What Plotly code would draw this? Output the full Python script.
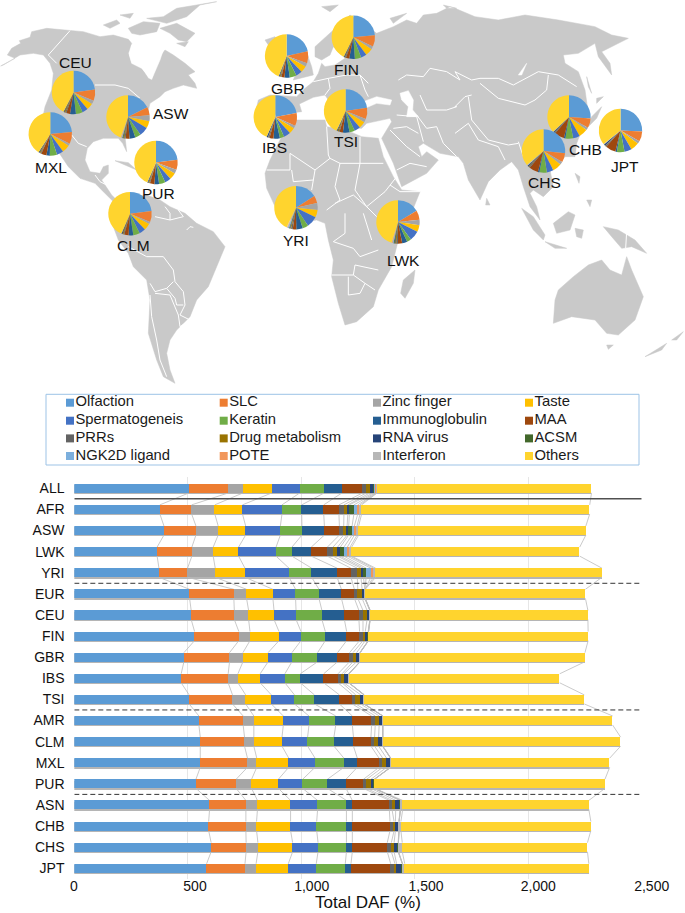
import numpy as np
import plotly.graph_objects as go

W, H = 685, 913

# ---------- data ----------
populations = ["ALL", "AFR", "ASW", "LWK", "YRI", "EUR", "CEU", "FIN", "GBR", "IBS",
               "TSI", "AMR", "CLM", "MXL", "PUR", "ASN", "CHB", "CHS", "JPT"]
olfaction = [506, 377, 395, 365, 373, 508, 515, 530, 483, 471, 506, 549, 555, 555, 536, 596, 592, 603, 583]
slc = [174, 140, 141, 153, 126, 195, 190, 195, 201, 207, 191, 195, 195, 208, 177, 160, 164, 154, 169]
zinc_finger = [64, 102, 98, 94, 122, 56, 63, 49, 59, 43, 58, 47, 41, 41, 68, 51, 47, 52, 49]
taste = [127, 122, 121, 112, 131, 116, 112, 128, 111, 98, 113, 130, 124, 141, 118, 146, 150, 153, 142]
spermatogeneis = [123, 174, 153, 165, 194, 100, 97, 97, 105, 109, 102, 113, 113, 116, 107, 119, 115, 112, 123]
keratin = [108, 87, 95, 70, 100, 103, 114, 107, 113, 68, 88, 118, 116, 127, 109, 127, 131, 125, 128]
immunoglobulin = [78, 97, 99, 85, 112, 99, 99, 94, 88, 103, 110, 73, 86, 59, 82, 26, 26, 26, 25]
maa = [91, 67, 66, 71, 61, 57, 64, 57, 53, 63, 57, 85, 77, 96, 77, 163, 166, 154, 175]
prrs = [17, 22, 19, 25, 28, 15, 18, 15, 15, 18, 15, 16, 16, 16, 14, 12, 18, 18, 19]
drug_metabolism = [15, 17, 15, 20, 16, 19, 18, 10, 16, 8, 22, 17, 18, 17, 19, 16, 6, 12, 7]
rna_virus = [15, 7, 7, 12, 11, 12, 12, 13, 14, 21, 14, 15, 17, 17, 14, 20, 15, 18, 25]
acsm = [8, 20, 15, 16, 12, 1, 1, 1, 1, 1, 1, 1, 1, 1, 1, 1, 1, 1, 1]
ngk2d_ligand = [4, 17, 10, 15, 21, 0, 0, 0, 0, 0, 0, 0, 0, 0, 0, 0, 0, 0, 0]
pote = [3, 10, 12, 12, 12, 0, 0, 0, 0, 0, 0, 0, 0, 0, 0, 0, 0, 0, 0]
interferon = [2, 7, 7, 7, 9, 1, 1, 1, 1, 1, 1, 1, 1, 1, 1, 10, 8, 17, 10]
others = [944, 1005, 1001, 1005, 997, 970, 959, 967, 990, 928, 969, 1012, 1047, 964, 1015, 820, 837, 816, 811]

series_names = ["Olfaction", "SLC", "Zinc finger", "Taste", "Spermatogeneis", "Keratin",
                "Immunoglobulin", "MAA", "PRRs", "Drug metabolism", "RNA virus", "ACSM",
                "NGK2D ligand", "POTE", "Interferon", "Others"]
series_values = [olfaction, slc, zinc_finger, taste, spermatogeneis, keratin, immunoglobulin, maa,
                 prrs, drug_metabolism, rna_virus, acsm, ngk2d_ligand, pote, interferon, others]
series_colors = ["#5B9BD5", "#ED7D31", "#A5A5A5", "#FFC000", "#4472C4", "#70AD47", "#255E91", "#9E480E",
                 "#636363", "#997300", "#264478", "#43682B", "#7CAFDD", "#F1975A", "#B7B7B7", "#FFD42E"]

x_ticks = [0, 500, 1000, 1500, 2000, 2500]
x_tick_labels = ["0", "500", "1,000", "1,500", "2,000", "2,500"]

# ---------- layout helpers (page pixels) ----------
x_label_px = [74, 195, 311.7, 426, 538.3, 651.7]   # the reference's labels sit right of their gridlines
pie_places = {"CEU": (73.5, 92.5), "ASW": (128, 117), "MXL": (50.3, 134), "PUR": (156, 162.5),
              "CLM": (130, 213.7), "GBR": (286.6, 56), "FIN": (353.3, 37.3), "IBS": (275.3, 117),
              "TSI": (345.6, 111), "YRI": (296, 207.7), "LWK": (398, 222), "CHB": (569, 117),
              "CHS": (543.5, 151), "JPT": (620.5, 130.5)}
pie_labels = {"CEU": (75, 62), "ASW": (171, 113), "MXL": (50.6, 167.5), "PUR": (158, 193.5),
              "CLM": (133, 245), "GBR": (288, 88.5), "FIN": (346, 69.5), "IBS": (274, 147.5),
              "TSI": (346, 141.7), "YRI": (296, 240.7), "LWK": (403, 260), "CHB": (585.5, 149),
              "CHS": (544, 182), "JPT": (624.5, 166)}
PIE_R = 21.7

def z10(p): return [(x / 3, y / 3) for x, y in p]
def z11(p): return [(250 + x / 3, y / 3) for x, y in p]
def z12(p): return [(455 + x / 3, y / 3) for x, y in p]

# ---------- map outlines ----------
land = [
    z10([(2, 198), (45, 175), (22, 165), (35, 145), (62, 130), (58, 122), (90, 112), (95, 95), (140, 85),
         (210, 90), (250, 95), (300, 110), (340, 105), (385, 118), (395, 130), (385, 160), (395, 190),
         (425, 205), (445, 235), (455, 240), (470, 200), (480, 170), (495, 150), (520, 165), (555, 190),
         (585, 215), (565, 225), (585, 250), (590, 265), (550, 255), (520, 265), (495, 275), (480, 290),
         (450, 310), (445, 330), (448, 360), (420, 395), (375, 410), (380, 455), (368, 430), (355, 415),
         (310, 415), (280, 425), (262, 445), (255, 480), (270, 515), (300, 520), (310, 500), (325, 495),
         (325, 520), (305, 540), (335, 585), (350, 600), (345, 610), (310, 575), (285, 550), (240, 535),
         (205, 500), (175, 455), (150, 420), (130, 345), (135, 320), (155, 270), (160, 220), (150, 190),
         (130, 165), (100, 160), (60, 165), (10, 195)]),
    z10([(350, 605), (395, 590), (440, 585), (480, 600), (510, 620), (555, 640), (590, 670), (640, 695),
         (675, 740), (650, 800), (625, 860), (590, 900), (570, 950), (530, 990), (510, 1020), (500, 1060),
         (510, 1110), (525, 1150), (490, 1130), (470, 1080), (445, 1000), (450, 900), (440, 840),
         (400, 800), (385, 760), (355, 720), (340, 680)]),
    z10([(345, 482), (385, 488), (410, 510), (375, 495)]),
    z10([(310, 75), (350, 60), (360, 70), (330, 85)]),
    z10([(360, 45), (400, 40), (390, 55)]),
    z10([(385, 85), (430, 65), (480, 70), (470, 95), (420, 105), (395, 100)]),
    z10([(440, 55), (490, 50), (530, 25), (585, 15), (650, 5), (600, 15), (560, 50), (500, 70)]),
    z10([(480, 85), (530, 70), (585, 100), (560, 125), (535, 120), (510, 100)]),
    z10([(530, 130), (565, 125), (555, 140)]),
    # Eurasia
    z11([(60, 345), (155, 335), (148, 312), (190, 292), (225, 285), (235, 300), (275, 345), (300, 385),
         (335, 385), (350, 370), (420, 355), (425, 365), (395, 415), (430, 490), (455, 560), (530, 520),
         (565, 480), (530, 455), (515, 470), (505, 440), (520, 430), (570, 460), (625, 470)])
    + z12([(25, 490), (40, 540), (75, 600), (100, 545), (135, 510), (170, 485), (190, 510), (205, 560),
           (225, 620), (255, 660), (245, 620), (225, 580), (235, 570), (265, 590), (295, 560), (285, 510),
           (330, 470), (360, 470), (365, 430), (400, 340), (390, 270), (370, 215), (330, 190), (325, 165),
           (370, 160), (420, 130), (430, 170), (470, 225), (465, 190), (440, 155), (500, 125), (520, 115),
           (470, 105), (420, 80), (310, 60), (210, 45), (130, 60), (60, 50), (0, 25)])
    + z11([(600, 20), (560, 40), (520, 45), (500, 70), (470, 60), (430, 80), (380, 100), (300, 45),
           (245, 95), (195, 140), (195, 170), (215, 180), (240, 165), (250, 140), (285, 175), (255, 195),
           (225, 200), (215, 190), (205, 220), (190, 245), (165, 265), (140, 290), (60, 285), (25, 300),
           (15, 345)]),
    # Africa
    z11([(135, 360), (225, 360), (230, 380), (260, 385), (300, 395), (335, 410), (385, 415), (400, 470),
         (430, 530), (455, 570), (510, 575), (490, 625), (460, 670), (445, 720), (425, 800), (385, 870),
         (370, 920), (320, 965), (285, 975), (265, 910), (245, 830), (250, 780), (235, 720), (225, 670),
         (200, 660), (140, 670), (80, 630), (50, 565), (45, 520), (60, 480), (80, 440), (100, 400)]),
    z11([(495, 810), (490, 850), (465, 895), (452, 880), (460, 840)]),
    z11([(120, 120), (160, 130), (185, 200), (190, 225), (130, 240), (150, 190), (125, 160)]),
    z11([(45, 120), (75, 110), (85, 125), (55, 135)]),
    z11([(215, 20), (265, 15), (240, 35)]),
    z11([(420, 55), (470, 40), (430, 70)]),
    z11([(580, 15), (620, 25), (590, 25)]),
    # Asia-Pacific islands and Australia
    z12([(200, 625), (235, 650), (270, 705), (265, 720), (235, 690)]),
    z12([(270, 725), (335, 745), (300, 745)]),
    z12([(295, 670), (340, 635), (360, 645), (345, 690), (305, 700)]),
    z12([(360, 685), (385, 690), (380, 715), (365, 710)]),
    z12([(360, 520), (375, 530), (372, 550)]),
    z12([(395, 600), (410, 600), (405, 620)]),
    z12([(445, 680), (490, 690), (540, 720), (575, 760), (530, 740), (500, 745), (470, 710)]),
    z12([(300, 900), (310, 870), (355, 830), (400, 795), (440, 780), (465, 810), (500, 825), (515, 770),
         (530, 810), (565, 890), (540, 960), (490, 1005), (455, 1000), (420, 960), (350, 950), (295, 970)]),
    z12([(455, 1035), (475, 1035), (460, 1048)]),
    z12([(570, 1070), (635, 1030), (620, 1050)]),
    z12([(650, 1020), (685, 995), (665, 1020)]),
    z12([(425, 295), (445, 290), (425, 310)]),
    z12([(395, 230), (410, 280), (400, 260)]),
    z12([(440, 320), (425, 355), (395, 385), (410, 350)]),
    z12([(95, 595), (105, 615), (92, 615)]),
]
water = [
    z10([(388, 165), (395, 135), (440, 130), (470, 160), (490, 150), (480, 180), (455, 238), (425, 205), (395, 190)]),
    z11([(340, 305), (380, 290), (425, 300), (420, 315), (380, 310), (345, 325)]),
    z11([(450, 280), (475, 272), (490, 300), (488, 330), (505, 350), (470, 350), (475, 320), (455, 300)]),
    z12([(190, 225), (215, 190), (200, 225)]),
]
borders = [
    z10([(210, 92), (145, 165), (170, 190)]),
    z10([(285, 255), (345, 255), (385, 265), (420, 295)]),
    z10([(215, 405), (235, 430), (260, 440)]),
    z10([(385, 740), (440, 770), (490, 770), (520, 810), (525, 845), (550, 875), (555, 915), (540, 945), (570, 960)]),
    z10([(450, 850), (465, 875), (500, 865), (520, 845)]),
    z10([(500, 865), (525, 895), (530, 915), (550, 915)]),
    z10([(450, 885), (455, 950), (470, 1020), (480, 1080), (500, 1130)]),
    z10([(465, 880), (510, 885), (535, 945), (540, 980), (570, 960)]),
    z10([(465, 650), (510, 660), (510, 640), (495, 620)]),
    z10([(510, 660), (550, 650), (535, 630)]),
    z10([(560, 690), (570, 680), (580, 682)]),
    z10([(285, 525), (300, 545), (320, 555)]),
    z11([(120, 460), (120, 510), (50, 510)]),
    z11([(120, 460), (195, 510), (240, 475), (270, 490), (330, 490), (400, 490)]),
    z11([(230, 380), (235, 465), (240, 475)]),
    z11([(330, 410), (330, 490)]),
    z11([(270, 490), (255, 560), (270, 600)]),
    z11([(330, 490), (315, 570), (350, 620), (405, 575), (440, 530)]),
    z11([(195, 510), (190, 540), (130, 545), (125, 510)]),
    z11([(190, 540), (185, 570)]),
    z11([(270, 600), (230, 630)]),
    z11([(255, 610), (310, 585), (350, 620), (380, 650)]),
    z11([(285, 640), (285, 700), (250, 725), (310, 745), (330, 770), (385, 750)]),
    z11([(340, 640), (365, 720)]),
    z11([(245, 825), (310, 825), (315, 795), (385, 810)]),
    z11([(295, 830), (295, 885), (330, 880), (345, 850), (310, 825)]),
    z11([(345, 850), (375, 870)]),
    z11([(420, 555), (450, 575), (510, 575)]),
    z11([(445, 610), (435, 660)]),
    z11([(190, 245), (235, 235), (240, 265), (225, 285)]),
    z11([(235, 235), (290, 225), (330, 225), (355, 250)]),
    z11([(330, 225), (345, 270), (355, 290)]),
    z11([(445, 240), (470, 225), (520, 230), (540, 205), (590, 215), (630, 240)]) + z12([(0, 215), (50, 240), (75, 235), (130, 235), (175, 255), (250, 215), (310, 225), (365, 260)]),
    z12([(75, 250), (130, 295), (210, 315), (240, 300), (275, 270), (280, 225)]),
    z11([(510, 285), (530, 330), (590, 330), (620, 320)]) + z12([(0, 320), (30, 290), (50, 285)]),
    z11([(440, 345), (500, 350), (520, 425)]),
    z11([(500, 345), (530, 385), (560, 380), (580, 430), (620, 470)]),
    z11([(420, 390), (470, 440), (510, 470)]),
    z11([(430, 385), (470, 380), (505, 400)]),
    z11([(440, 510), (480, 490), (530, 500)]),
    z12([(40, 290), (50, 360), (100, 420), (160, 435), (190, 430)]),
    z12([(0, 400), (40, 370), (70, 420), (130, 440), (150, 480)]),
    z12([(190, 425), (205, 470), (240, 490)]),
    z12([(515, 695), (512, 745)]),
]

def join(polys, closed):
    xs, ys = [], []
    for p in polys:
        q = list(p) + ([p[0]] if closed else [])
        xs += [a for a, _ in q] + [None]
        ys += [b for _, b in q] + [None]
    return xs, ys

# ---------- figure ----------
fig = go.Figure()

XL, XR = 74.3, 641.7          # pixel positions of 0 and 2,500
ROW0, ROW_H = 488.3, 21.11     # pixel centre of first row and row spacing
PT, PB = 477, 879              # plot area top and bottom
yr_top = (PT - ROW0) / ROW_H
yr_bot = (PB - ROW0) / ROW_H
BAR = 0.43
SHIFT = 1.3 / ROW_H
rows = list(range(len(populations)))
totals = np.sum(np.array(series_values), axis=0)
cum = np.cumsum(np.array(series_values), axis=0)

fig.add_trace(go.Bar(y=[r + SHIFT for r in rows], x=totals, orientation="h", width=BAR,
                     marker=dict(color="#B5B5B5", line_width=0), showlegend=False,
                     hoverinfo="skip", name="shadow"))

cx, cy = [], []
for k in range(cum.shape[0]):
    for r in rows[:-1]:
        cx += [cum[k][r], cum[k][r + 1], None]
        cy += [r + BAR / 2, r + 1 - BAR / 2, None]
fig.add_trace(go.Scatter(x=cx, y=cy, mode="lines", line=dict(color="#BDBDBD", width=0.8),
                         showlegend=False, hoverinfo="skip", name="series lines"))

for name, vals, col in zip(series_names, series_values, series_colors):
    fig.add_trace(go.Bar(y=rows, x=vals, name=name, orientation="h", width=BAR, yaxis="y3",
                         marker=dict(color=col, line_width=0), showlegend=False))

lx, ly = join(land, True)
fig.add_trace(go.Scatter(x=lx, y=ly, xaxis="x2", yaxis="y2", mode="lines", fill="toself",
                         fillcolor="#C9C9C9", line=dict(color="#C9C9C9", width=0.5),
                         showlegend=False, hoverinfo="skip", name="land"))
wx, wy = join(water, True)
fig.add_trace(go.Scatter(x=wx, y=wy, xaxis="x2", yaxis="y2", mode="lines", fill="toself",
                         fillcolor="#FFFFFF", line=dict(color="#FFFFFF", width=0.5),
                         showlegend=False, hoverinfo="skip", name="water"))
bx, by = join(borders, False)
fig.add_trace(go.Scatter(x=bx, y=by, xaxis="x2", yaxis="y2", mode="lines",
                         line=dict(color="#FFFFFF", width=1), showlegend=False,
                         hoverinfo="skip", name="borders"))

for pop, (px, py) in pie_places.items():
    i = populations.index(pop)
    fig.add_trace(go.Pie(labels=series_names, values=[s[i] for s in series_values],
                         marker=dict(colors=series_colors, line=dict(width=0)),
                         sort=False, direction="clockwise", rotation=0, textinfo="none",
                         showlegend=False, name=pop,
                         domain=dict(x=[(px - PIE_R) / W, (px + PIE_R) / W],
                                     y=[1 - (py + PIE_R) / H, 1 - (py - PIE_R) / H])))

col_x = [70, 223.7, 377, 529]
row_y = [402.7, 420.7, 438.4, 456]
leg_x = [col_x[i % 4] for i in range(16)]
leg_y = [row_y[i // 4] for i in range(16)]
fig.add_trace(go.Scatter(x=leg_x, y=leg_y, xaxis="x2", yaxis="y2", mode="markers",
                         marker=dict(symbol="square", size=8, color=series_colors),
                         showlegend=False, hoverinfo="skip", name="legend swatches"))
fig.add_trace(go.Scatter(x=[v + 5.5 for v in leg_x], y=leg_y, xaxis="x2", yaxis="y2", mode="text",
                         text=series_names, textposition="middle right",
                         textfont=dict(size=14.8, color="#1a1a1a"),
                         showlegend=False, hoverinfo="skip", name="legend labels"))

annotations = [dict(x=x, y=y, xref="x2", yref="y2", text=k, showarrow=False,
                    font=dict(size=15.5, color="#111111"))
               for k, (x, y) in pie_labels.items()]
annotations.append(dict(x=368, y=902, xref="x2", yref="y2", text="Total DAF (%)", showarrow=False,
                        font=dict(size=17, color="#111111")))

shapes = [dict(type="rect", xref="x2", yref="y2", x0=46, x1=639, y0=394.3, y1=465,
               line=dict(color="#9DC3E6", width=1), fillcolor="rgba(0,0,0,0)"),
          dict(type="line", xref="x", yref="y", x0=0, x1=2500, y0=0.5, y1=0.5,
               line=dict(color="#505050", width=1.5))]
for yy in (4.5, 10.5, 14.5):
    shapes.append(dict(type="line", xref="x", yref="y", x0=0, x1=2500, y0=yy, y1=yy,
                       line=dict(color="#333333", width=1, dash="5px,3px")))

dom_y = [1 - PB / H, 1 - PT / H]
fig.update_layout(
    width=W, height=H, autosize=False, margin=dict(l=0, r=0, t=0, b=0, autoexpand=False),
    paper_bgcolor="white", plot_bgcolor="rgba(0,0,0,0)",
    font=dict(family="Liberation Sans, Arial, sans-serif", color="#111111"),
    barmode="stack", bargap=0, showlegend=False, shapes=shapes, annotations=annotations,
    xaxis=dict(domain=[XL / W, XR / W], range=[0, 2500], tickvals=x_ticks, showticklabels=False,
               showgrid=True, gridcolor="#E6E6E6", gridwidth=1, zeroline=False, showline=False, ticks=""),
    yaxis=dict(domain=dom_y, range=[yr_bot, yr_top], tickvals=rows, ticktext=populations,
               showgrid=False, zeroline=False, showline=False, ticks="outside", ticklen=6,
               tickcolor="rgba(0,0,0,0)", tickfont=dict(size=14)),
    yaxis3=dict(domain=dom_y, overlaying="y", range=[yr_bot, yr_top], visible=False),
    xaxis2=dict(domain=[0, 1], range=[0, W], anchor="free", position=1 - PB / H, side="bottom",
                tickvals=x_label_px, ticktext=x_tick_labels, showgrid=False, zeroline=False,
                showline=False, ticks="", ticklabelstandoff=-3, tickfont=dict(size=14)),
    yaxis2=dict(domain=[0, 1], range=[H, 0], visible=False, anchor="x2"),
)

fig.write_html("out.html", config=dict(displayModeBar=False, responsive=False),
               post_script="document.body.style.margin='0';document.body.style.overflow='hidden';"
                           "Plotly.relayout(document.getElementById('{plot_id}'),{width:685,height:913});")
